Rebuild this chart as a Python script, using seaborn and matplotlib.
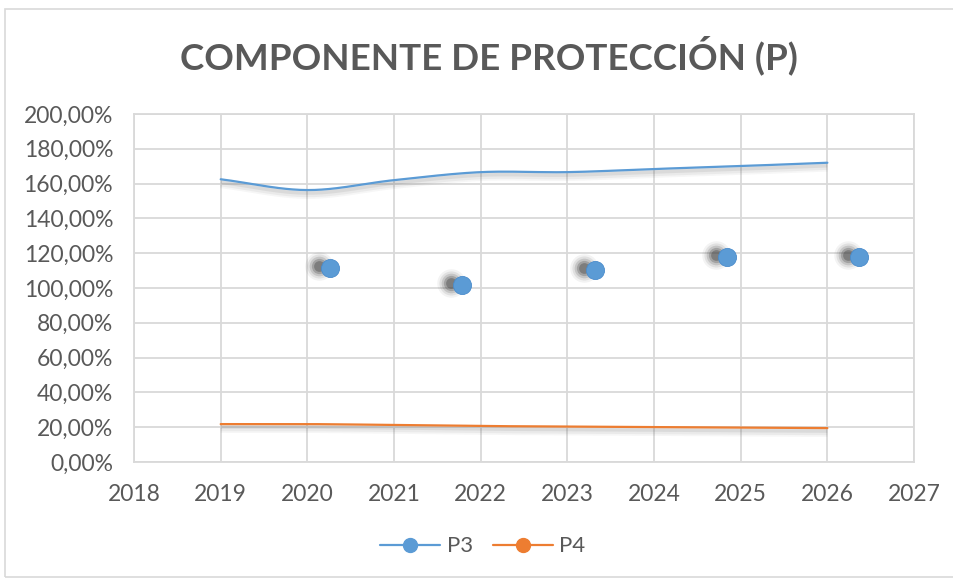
import numpy as np
import pandas as pd
import seaborn as sns
import matplotlib.pyplot as plt
import matplotlib.transforms as mtransforms
from matplotlib.lines import Line2D
from matplotlib.patches import Rectangle

# data
years = [2019, 2020, 2021, 2022, 2023, 2024, 2025, 2026]
p3_line = [162.5, 156.3, 162.0, 166.6, 166.6, 168.4, 170.1, 172.0]
p4_line = [21.8, 21.8, 21.3, 20.7, 20.4, 20.1, 19.8, 19.5]
p3_x = [2020.26, 2021.78, 2023.32, 2024.84, 2026.37]
p3_y = [111.5, 101.7, 110.3, 117.8, 117.8]

BLUE = '#5B9BD5'
ORANGE = '#ED7D31'
GREY = '#595959'


def smooth(xs, ys, n=24):
    # Catmull-Rom curve through the points, like Excel's smoothed line
    xs = np.asarray(xs, float)
    ys = np.asarray(ys, float)
    px = np.concatenate([[2 * xs[0] - xs[1]], xs, [2 * xs[-1] - xs[-2]]])
    py = np.concatenate([[2 * ys[0] - ys[1]], ys, [2 * ys[-1] - ys[-2]]])
    ox, oy = [], []
    t = np.linspace(0, 1, n, endpoint=False)
    for i in range(1, len(px) - 2):
        for arr, out in ((px, ox), (py, oy)):
            p0, p1, p2, p3 = arr[i - 1], arr[i], arr[i + 1], arr[i + 2]
            out.extend(0.5 * ((2 * p1) + (-p0 + p2) * t
                              + (2 * p0 - 5 * p1 + 4 * p2 - p3) * t ** 2
                              + (-p0 + 3 * p1 - 3 * p2 + p3) * t ** 3))
    ox.append(xs[-1])
    oy.append(ys[-1])
    return np.array(ox), np.array(oy)


sns.set_theme(style='white')
plt.rcParams['font.family'] = ['Lato', 'DejaVu Sans']

fig = plt.figure(figsize=(9.54, 5.8), dpi=100)
fig.patches.append(Rectangle((5 / 954, 0.005), 1.2, 0.98, transform=fig.transFigure,
                             fill=False, edgecolor='#d9d9d9', linewidth=1.2))
ax = fig.add_axes([0.1405, 0.2034, 0.8176, 0.6])

# smoothed lines with a soft shadow underneath
for vals, col in ((p3_line, BLUE), (p4_line, ORANGE)):
    sx, sy = smooth(years, vals)
    df = pd.DataFrame({'x': sx, 'y': sy})
    for dy, lw, a in [(-4, 7, 0.05), (-4, 4.5, 0.07), (-3, 2.5, 0.10)]:
        tr = mtransforms.offset_copy(ax.transData, fig=fig, x=0, y=dy, units='dots')
        ax.plot(sx, sy, color='#555555', lw=lw, alpha=a, transform=tr,
                solid_capstyle='butt', zorder=2)
    sns.lineplot(data=df, x='x', y='y', ax=ax, color=col, lw=1.6, sort=False,
                 estimator=None, zorder=3)

# blurred marker shadows then the P3 markers
for s, a in [(420, 0.06), (300, 0.10), (200, 0.16), (120, 0.25), (60, 0.35)]:
    tr = mtransforms.offset_copy(ax.transData, fig=fig, x=-11, y=2, units='dots')
    ax.scatter(p3_x, p3_y, s=s, color='#3a3a3a', alpha=a, linewidths=0,
               transform=tr, zorder=4)
sns.scatterplot(x=p3_x, y=p3_y, ax=ax, s=170, color=BLUE, edgecolor='#4a8ccc',
                linewidth=0.6, zorder=5)

ax.set_xlim(2018, 2027)
ax.set_ylim(0, 200)
ax.set_xticks(range(2018, 2028))
ax.set_yticks(range(0, 201, 20))
ax.set_yticklabels([f'{v},00%' for v in range(0, 201, 20)])
ax.set_xlabel('')
ax.set_ylabel('')
ax.grid(True, color='#d9d9d9', lw=1.3)
ax.set_axisbelow(True)
for sp in ax.spines.values():
    sp.set_color('#d9d9d9')
    sp.set_linewidth(1.3)
ax.tick_params(length=0, labelsize=16.5, labelcolor=GREY)
ax.tick_params(axis='y', pad=15)
ax.tick_params(axis='x', pad=16)

fig.text(0.513, 0.905, 'COMPONENTE DE PROTECCIÓN (P)', ha='center', va='center',
         fontsize=26.5, fontweight='bold', color=GREY)

handles = [Line2D([], [], color=BLUE, lw=1.6, marker='o', markersize=10),
           Line2D([], [], color=ORANGE, lw=1.6, marker='o', markersize=10)]
fig.legend(handles, ['P3', 'P4'], loc='center', bbox_to_anchor=(0.506, 0.058), ncol=2,
           frameon=False, fontsize=16, labelcolor=GREY, handlelength=2.7,
           columnspacing=0.9, handletextpad=0.3)

fig.savefig('out.png', dpi=100)
